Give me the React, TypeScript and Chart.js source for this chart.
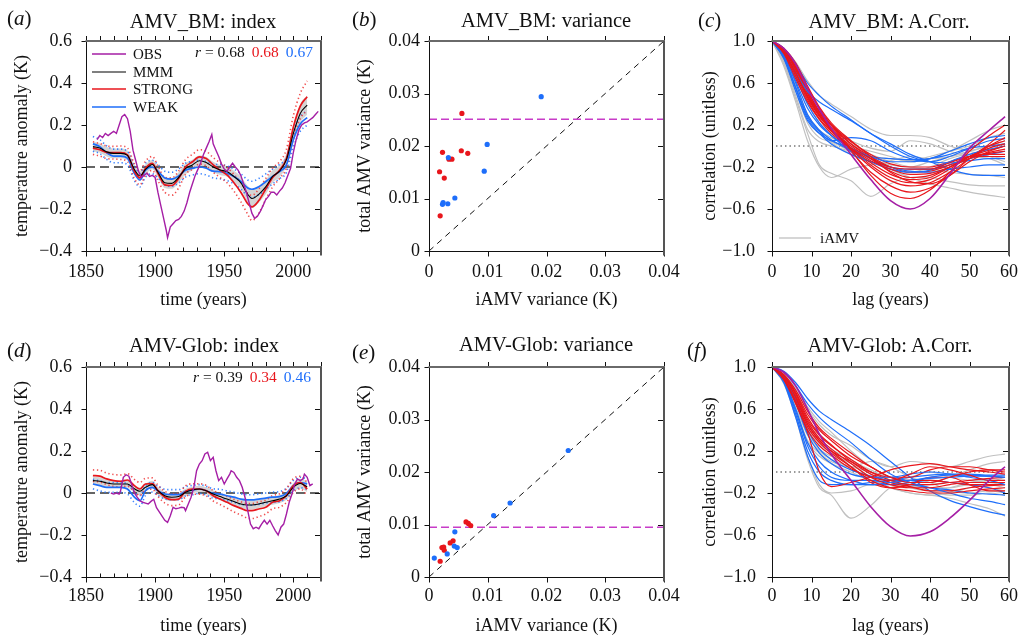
import React, { useEffect, useRef } from "react";
import { Chart, registerables } from "chart.js";

Chart.register(...registerables);

const SERIF = "'Liberation Serif', 'Times New Roman', Times, serif";
Chart.defaults.font.family = SERIF;
Chart.defaults.color = "#111";

const RED = "rgb(232,22,28)";
const BLUE = "rgb(30,110,250)";
const PURPLE = "rgb(165,30,165)";
const GREY = "rgb(192,192,192)";
const RED_DOT = "rgba(240,60,60,0.9)";
const BLUE_DOT = "rgba(40,120,255,0.9)";
const BAND = "rgba(205,205,205,0.85)";

// ---------------- DATA ----------------
// index panels (a), (d)
const modelYears = [1855, 1860, 1865, 1870, 1875, 1880, 1885, 1889, 1893, 1898, 1902, 1907, 1912, 1917, 1922, 1927, 1932, 1937, 1942, 1947, 1952, 1957, 1962, 1967, 1970, 1975, 1980, 1985, 1990, 1995, 2000, 2005, 2010];
const indexXMajorYears = [1850, 1900, 1950, 2000];
const indexXLabels = ["1850", "1900", "1950", "2000"];
const indexYLabels = ["\u22120.4", "\u22120.2", "0", "0.2", "0.4", "0.6"];

const bmObsYears = [1858, 1860, 1862, 1864, 1866, 1868, 1870, 1872, 1874, 1876, 1878, 1880, 1882, 1884, 1886, 1888, 1890, 1892, 1894, 1896, 1898, 1900, 1902, 1904, 1906, 1908, 1909, 1911, 1913, 1915, 1917, 1919, 1921, 1923, 1925, 1927, 1929, 1931, 1933, 1935, 1937, 1939, 1941, 1942, 1944, 1946, 1948, 1950, 1952, 1954, 1956, 1958, 1960, 1962, 1964, 1966, 1968, 1970, 1972, 1974, 1976, 1978, 1980, 1982, 1984, 1986, 1988, 1990, 1992, 1994, 1996, 1998, 2000, 2002, 2004, 2006, 2008, 2010, 2012, 2014, 2016, 2018];
const bmObs = [0.13, 0.15, 0.14, 0.16, 0.15, 0.16, 0.17, 0.16, 0.2, 0.24, 0.25, 0.23, 0.17, 0.08, 0.03, -0.02, -0.05, -0.04, -0.03, -0.045, -0.04, -0.05, -0.12, -0.18, -0.24, -0.3, -0.337, -0.285, -0.27, -0.255, -0.25, -0.235, -0.21, -0.17, -0.12, -0.08, -0.04, -0.01, 0.02, 0.06, 0.09, 0.12, 0.155, 0.11, 0.08, 0.05, 0.015, -0.01, -0.02, 0.0, 0.018, 0.0, -0.015, -0.04, -0.08, -0.12, -0.17, -0.22, -0.245, -0.235, -0.213, -0.185, -0.155, -0.14, -0.12, -0.12, -0.133, -0.115, -0.1, -0.075, -0.04, -0.006, 0.07, 0.13, 0.176, 0.2, 0.21, 0.215, 0.225, 0.235, 0.25, 0.265];
const bmMMM = [0.097, 0.09, 0.072, 0.065, 0.065, 0.055, -0.012, -0.042, -0.012, 0.012, -0.025, -0.075, -0.078, -0.05, -0.008, 0.01, 0.03, 0.022, 0.0, -0.014, -0.022, -0.045, -0.075, -0.13, -0.15, -0.13, -0.095, -0.045, -0.02, 0.035, 0.16, 0.255, 0.295];
const bmStrong = [0.09, 0.082, 0.07, 0.068, 0.068, 0.058, -0.02, -0.052, -0.006, 0.017, -0.03, -0.085, -0.088, -0.055, 0.0, 0.025, 0.048, 0.04, 0.01, -0.015, -0.038, -0.075, -0.12, -0.175, -0.19, -0.16, -0.105, -0.05, -0.015, 0.04, 0.19, 0.29, 0.335];
const bmWeak = [0.11, 0.097, 0.068, 0.052, 0.052, 0.042, -0.03, -0.062, -0.015, 0.0, -0.02, -0.052, -0.058, -0.043, -0.015, -0.006, 0.0, -0.006, -0.02, -0.022, -0.03, -0.045, -0.068, -0.1, -0.106, -0.094, -0.07, -0.045, -0.022, 0.01, 0.13, 0.205, 0.235];
const bmStrongHi = [0.12, 0.112, 0.1, 0.098, 0.1, 0.09, 0.015, -0.02, 0.028, 0.05, 0.005, -0.05, -0.052, -0.02, 0.035, 0.06, 0.082, 0.075, 0.045, 0.02, -0.002, -0.035, -0.075, -0.125, -0.135, -0.105, -0.055, -0.005, 0.025, 0.085, 0.245, 0.35, 0.41];
const bmStrongLo = [0.06, 0.052, 0.04, 0.038, 0.036, 0.026, -0.055, -0.085, -0.04, -0.016, -0.065, -0.12, -0.135, -0.1, -0.035, -0.01, 0.014, 0.005, -0.025, -0.05, -0.075, -0.115, -0.165, -0.225, -0.255, -0.22, -0.155, -0.095, -0.055, -0.005, 0.135, 0.23, 0.27];
const bmWeakHi = [0.145, 0.13, 0.1, 0.085, 0.085, 0.075, 0.005, -0.03, 0.018, 0.032, 0.012, -0.02, -0.025, -0.01, 0.018, 0.026, 0.032, 0.026, 0.012, 0.012, 0.005, -0.01, -0.032, -0.062, -0.068, -0.055, -0.033, -0.01, 0.012, 0.045, 0.165, 0.24, 0.27];
const bmWeakLo = [0.075, 0.064, 0.036, 0.02, 0.02, 0.01, -0.065, -0.095, -0.048, -0.032, -0.052, -0.085, -0.092, -0.077, -0.048, -0.038, -0.032, -0.038, -0.052, -0.056, -0.065, -0.08, -0.105, -0.138, -0.145, -0.132, -0.107, -0.08, -0.056, -0.025, 0.095, 0.17, 0.2];
const bmBandHi = [0.12, 0.112, 0.095, 0.088, 0.088, 0.078, 0.012, -0.018, 0.012, 0.035, 0.0, -0.05, -0.052, -0.025, 0.018, 0.035, 0.055, 0.048, 0.025, 0.01, 0.002, -0.018, -0.045, -0.09, -0.105, -0.09, -0.06, -0.015, 0.008, 0.065, 0.2, 0.3, 0.34];
const bmBandLo = [0.074, 0.068, 0.05, 0.042, 0.042, 0.032, -0.036, -0.066, -0.036, -0.011, -0.05, -0.1, -0.104, -0.075, -0.034, -0.015, 0.005, -0.004, -0.025, -0.038, -0.046, -0.072, -0.105, -0.17, -0.195, -0.17, -0.13, -0.075, -0.048, 0.005, 0.12, 0.21, 0.25];
const bmR = ["0.68", "0.68", "0.67"];

const globObsYears = [1868, 1870, 1872, 1874, 1875, 1877, 1879, 1881, 1883, 1885, 1887, 1889, 1891, 1893, 1895, 1897, 1899, 1901, 1903, 1905, 1907, 1909, 1911, 1913, 1915, 1917, 1919, 1921, 1922, 1924, 1926, 1928, 1930, 1932, 1934, 1936, 1938, 1940, 1942, 1944, 1946, 1948, 1950, 1952, 1954, 1955, 1957, 1959, 1961, 1963, 1965, 1967, 1969, 1971, 1973, 1975, 1977, 1979, 1981, 1983, 1985, 1987, 1989, 1991, 1993, 1995, 1997, 1999, 2001, 2003, 2005, 2007, 2008, 2010, 2012, 2014];
const globObs = [0.0, -0.005, 0.0, -0.005, 0.01, 0.075, 0.087, 0.08, 0.043, 0.0, -0.02, -0.037, -0.044, -0.048, -0.052, -0.04, -0.03, -0.07, -0.09, -0.11, -0.13, -0.14, -0.108, -0.068, -0.075, -0.072, -0.068, -0.07, -0.084, -0.052, -0.02, 0.027, 0.106, 0.138, 0.154, 0.186, 0.194, 0.154, 0.17, 0.106, 0.059, 0.075, 0.043, 0.067, 0.09, 0.106, 0.098, 0.075, 0.059, 0.027, -0.02, -0.084, -0.148, -0.17, -0.163, -0.17, -0.148, -0.13, -0.148, -0.13, -0.156, -0.18, -0.2, -0.163, -0.148, -0.1, -0.044, -0.005, 0.043, 0.067, 0.059, 0.067, 0.09, 0.075, 0.035, 0.043];
const globMMM = [0.059, 0.056, 0.048, 0.043, 0.043, 0.043, 0.02, 0.008, 0.027, 0.04, 0.011, -0.013, -0.02, -0.017, 0.003, 0.014, 0.019, 0.011, -0.005, -0.017, -0.029, -0.04, -0.052, -0.057, -0.057, -0.052, -0.044, -0.037, -0.029, -0.013, 0.027, 0.045, 0.03];
const globStrong = [0.083, 0.08, 0.067, 0.059, 0.056, 0.062, 0.035, 0.019, 0.043, 0.045, 0.011, -0.02, -0.032, -0.029, 0.008, 0.019, 0.019, 0.011, -0.013, -0.029, -0.044, -0.06, -0.073, -0.084, -0.084, -0.076, -0.068, -0.044, -0.037, -0.013, 0.035, 0.05, 0.019];
const globWeak = [0.043, 0.035, 0.027, 0.027, 0.027, 0.019, -0.02, -0.037, 0.011, 0.027, 0.011, -0.005, -0.008, -0.008, 0.008, 0.014, 0.019, 0.011, -0.002, -0.005, -0.013, -0.02, -0.029, -0.033, -0.033, -0.029, -0.024, -0.02, -0.017, -0.002, 0.035, 0.05, 0.043];
const globStrongHi = [0.11, 0.108, 0.095, 0.088, 0.086, 0.092, 0.065, 0.05, 0.07, 0.072, 0.038, 0.008, -0.004, -0.002, 0.034, 0.044, 0.044, 0.036, 0.012, -0.003, -0.016, -0.03, -0.042, -0.05, -0.05, -0.042, -0.034, -0.012, -0.004, 0.02, 0.068, 0.08, 0.05];
const globStrongLo = [0.055, 0.052, 0.04, 0.032, 0.028, 0.033, 0.006, -0.012, 0.016, 0.018, -0.016, -0.048, -0.06, -0.057, -0.018, -0.006, -0.006, -0.014, -0.038, -0.055, -0.072, -0.09, -0.105, -0.12, -0.122, -0.112, -0.1, -0.075, -0.068, -0.045, 0.002, 0.02, -0.012];
const globWeakHi = [0.065, 0.058, 0.05, 0.05, 0.05, 0.042, 0.005, -0.012, 0.034, 0.05, 0.034, 0.018, 0.016, 0.016, 0.03, 0.036, 0.04, 0.032, 0.02, 0.018, 0.01, 0.004, -0.004, -0.008, -0.008, -0.004, 0.0, 0.004, 0.007, 0.022, 0.06, 0.075, 0.068];
const globWeakLo = [0.02, 0.01, 0.003, 0.003, 0.003, -0.005, -0.045, -0.063, -0.012, 0.004, -0.012, -0.028, -0.032, -0.032, -0.014, -0.008, -0.002, -0.01, -0.025, -0.028, -0.036, -0.044, -0.054, -0.058, -0.058, -0.054, -0.048, -0.044, -0.041, -0.026, 0.01, 0.025, 0.018];
const globBandHi = [0.078, 0.075, 0.066, 0.06, 0.06, 0.06, 0.038, 0.026, 0.044, 0.058, 0.03, 0.005, -0.002, 0.0, 0.02, 0.03, 0.035, 0.028, 0.012, 0.0, -0.012, -0.022, -0.032, -0.036, -0.036, -0.032, -0.025, -0.018, -0.01, 0.006, 0.048, 0.068, 0.055];
const globBandLo = [0.04, 0.037, 0.03, 0.026, 0.026, 0.026, 0.002, -0.01, 0.01, 0.022, -0.008, -0.031, -0.038, -0.035, -0.014, -0.002, 0.003, -0.006, -0.022, -0.034, -0.046, -0.058, -0.072, -0.078, -0.078, -0.072, -0.063, -0.056, -0.048, -0.032, 0.006, 0.022, 0.005];
const globR = ["0.39", "0.34", "0.46"];

// variance panels (b), (e)
const varLabels = ["0", "0.01", "0.02", "0.03", "0.04"];
const bmVarStrongX = [0.0018, 0.0023, 0.0026, 0.0019, 0.0034, 0.0039, 0.0056, 0.0055, 0.0066];
const bmVarStrongY = [0.0151, 0.0188, 0.0139, 0.0067, 0.0175, 0.0175, 0.0262, 0.0191, 0.0186];
const bmVarWeakX = [0.0033, 0.0023, 0.0024, 0.0032, 0.0044, 0.0094, 0.0099, 0.0191];
const bmVarWeakY = [0.0178, 0.0089, 0.0092, 0.009, 0.0101, 0.0152, 0.0203, 0.0294];
const bmVarObs = 0.0251;
const globVarStrongX = [0.0019, 0.0022, 0.0025, 0.0026, 0.0036, 0.0041, 0.0063, 0.0067, 0.0071];
const globVarStrongY = [0.003, 0.0056, 0.0057, 0.0051, 0.0065, 0.0069, 0.0105, 0.0102, 0.0098];
const globVarWeakX = [0.0009, 0.0031, 0.0043, 0.0048, 0.0044, 0.011, 0.0138, 0.0237];
const globVarWeakY = [0.0036, 0.0044, 0.0059, 0.0056, 0.0086, 0.0117, 0.0141, 0.0241];
const globVarObs = 0.0095;

// autocorrelation panels (c), (f)
const lags = [0, 3, 6, 9, 12, 15, 20, 25, 30, 35, 40, 45, 50, 55, 59];
const acfXLabels = ["0", "10", "20", "30", "40", "50", "60"];
const acfYLabels = ["\u22121.0", "\u22120.6", "\u22120.2", "0.2", "0.6", "1.0"];
const acfZeroLags = [1, 59];

const bmAcfObs = [1, 0.93, 0.78, 0.55, 0.35, 0.17, -0.08, -0.32, -0.52, -0.6, -0.5, -0.27, -0.02, 0.15, 0.28];
const bmAcfGrey = [
  [1, 0.9, 0.68, 0.45, 0.3, 0.2, 0.05, -0.1, -0.22, -0.3, -0.36, -0.4, -0.44, -0.47, -0.49],
  [1, 0.78, 0.45, 0.12, -0.18, -0.26, -0.33, -0.48, -0.36, -0.3, -0.3, -0.34, -0.37, -0.38, -0.38],
  [1, 0.76, 0.42, 0.05, -0.2, -0.3, -0.22, -0.18, -0.14, -0.1, -0.12, -0.1, -0.05, 0.0, 0.05],
  [1, 0.93, 0.8, 0.62, 0.48, 0.4, 0.28, 0.16, 0.1, 0.1, 0.08, 0.0, -0.05, -0.1, -0.15],
  [1, 0.85, 0.58, 0.3, 0.15, 0.08, 0.0, -0.05, -0.1, -0.15, -0.12, -0.05, 0.05, 0.15, 0.2],
  [1, 0.82, 0.52, 0.22, 0.08, 0.04, -0.05, -0.12, -0.18, -0.2, -0.15, -0.1, -0.05, 0.0, 0.02],
  [1, 0.88, 0.66, 0.4, 0.22, 0.12, 0.02, -0.08, -0.15, -0.2, -0.22, -0.25, -0.27, -0.28, -0.3],
  [1, 0.8, 0.48, 0.16, 0.04, 0.0, -0.05, -0.1, -0.12, -0.14, -0.1, -0.05, 0.0, 0.08, 0.12],
  [1, 0.9, 0.7, 0.45, 0.25, 0.15, 0.05, -0.02, -0.05, 0.05, 0.02, -0.05, -0.1, -0.12, -0.18],
  [1, 0.84, 0.56, 0.28, 0.12, 0.03, -0.08, -0.15, -0.22, -0.25, -0.2, -0.12, -0.08, -0.1, -0.12],
];
const bmAcfBlue = [
  [1, 0.93, 0.78, 0.6, 0.48, 0.38, 0.25, 0.12, 0.02, -0.08, -0.15, -0.22, -0.27, -0.28, -0.28],
  [1, 0.9, 0.7, 0.52, 0.42, 0.35, 0.24, 0.12, 0.0, -0.1, -0.15, -0.16, -0.14, -0.12, -0.12],
  [1, 0.85, 0.56, 0.28, 0.14, 0.05, 0.08, 0.05, -0.05, -0.12, -0.15, -0.1, -0.02, 0.05, 0.07],
  [1, 0.83, 0.52, 0.24, 0.12, 0.05, -0.02, -0.1, -0.15, -0.15, -0.12, -0.05, 0.02, 0.08, 0.1],
  [1, 0.87, 0.62, 0.36, 0.2, 0.1, -0.02, -0.12, -0.2, -0.22, -0.22, -0.18, -0.12, -0.08, -0.05],
  [1, 0.84, 0.55, 0.26, 0.12, 0.02, -0.08, -0.15, -0.2, -0.24, -0.25, -0.22, -0.2, -0.18, -0.18],
  [1, 0.86, 0.6, 0.3, 0.15, 0.06, -0.04, -0.1, -0.12, -0.13, -0.12, -0.08, -0.02, 0.0, 0.02],
  [1, 0.89, 0.66, 0.4, 0.22, 0.1, -0.05, -0.15, -0.22, -0.25, -0.23, -0.15, -0.08, -0.03, 0.0],
];
const bmAcfRed = [
  [1, 0.93, 0.78, 0.56, 0.36, 0.2, -0.04, -0.28, -0.45, -0.5, -0.42, -0.25, -0.05, 0.1, 0.2],
  [1, 0.92, 0.74, 0.52, 0.32, 0.16, -0.05, -0.25, -0.38, -0.44, -0.4, -0.28, -0.12, 0.02, 0.15],
  [1, 0.9, 0.7, 0.47, 0.29, 0.15, -0.03, -0.2, -0.33, -0.38, -0.35, -0.25, -0.12, 0.0, 0.08],
  [1, 0.91, 0.73, 0.5, 0.3, 0.16, -0.02, -0.18, -0.3, -0.35, -0.32, -0.22, -0.1, 0.0, 0.05],
  [1, 0.89, 0.67, 0.44, 0.26, 0.14, -0.02, -0.16, -0.27, -0.32, -0.3, -0.2, -0.1, -0.02, 0.02],
  [1, 0.92, 0.76, 0.53, 0.33, 0.2, 0.02, -0.12, -0.24, -0.3, -0.28, -0.2, -0.1, -0.04, 0.0],
  [1, 0.88, 0.64, 0.42, 0.25, 0.12, -0.02, -0.14, -0.22, -0.27, -0.26, -0.2, -0.12, -0.06, -0.03],
  [1, 0.91, 0.72, 0.48, 0.3, 0.18, 0.02, -0.1, -0.2, -0.25, -0.24, -0.18, -0.1, -0.07, -0.05],
  [1, 0.9, 0.69, 0.46, 0.28, 0.16, 0.0, -0.12, -0.2, -0.22, -0.22, -0.16, -0.1, -0.08, -0.08],
  [1, 0.92, 0.75, 0.5, 0.32, 0.2, 0.04, -0.08, -0.17, -0.2, -0.2, -0.15, -0.1, -0.1, -0.1],
  [1, 0.93, 0.79, 0.57, 0.37, 0.22, 0.05, -0.1, -0.25, -0.34, -0.36, -0.28, -0.15, -0.05, 0.0],
];

const globAcfObs = [1, 0.95, 0.82, 0.6, 0.36, 0.17, -0.08, -0.33, -0.52, -0.61, -0.57, -0.44, -0.27, -0.08, 0.05];
const globAcfGrey = [
  [1, 0.84, 0.52, 0.12, -0.15, -0.22, -0.44, -0.32, -0.15, -0.12, -0.18, -0.22, -0.22, -0.2, -0.22],
  [1, 0.85, 0.55, 0.15, -0.12, -0.2, -0.18, -0.12, -0.15, -0.2, -0.22, -0.25, -0.3, -0.35, -0.42],
  [1, 0.92, 0.78, 0.6, 0.45, 0.35, 0.25, 0.12, 0.05, 0.1, 0.08, 0.05, 0.1, 0.15, 0.17],
  [1, 0.93, 0.8, 0.62, 0.48, 0.38, 0.2, 0.05, -0.05, -0.1, -0.1, -0.05, 0.02, 0.08, 0.1],
  [1, 0.88, 0.62, 0.35, 0.2, 0.12, 0.05, 0.0, -0.05, -0.1, -0.15, -0.15, -0.12, -0.12, -0.15],
  [1, 0.87, 0.6, 0.3, 0.18, 0.1, 0.05, 0.1, 0.05, -0.05, -0.1, -0.18, -0.2, -0.18, -0.2],
  [1, 0.9, 0.68, 0.42, 0.27, 0.18, 0.08, -0.05, -0.15, -0.2, -0.22, -0.2, -0.15, -0.1, -0.05],
  [1, 0.86, 0.58, 0.28, 0.15, 0.08, 0.0, -0.08, -0.1, -0.05, 0.0, -0.05, -0.08, -0.1, -0.12],
  [1, 0.89, 0.65, 0.38, 0.22, 0.15, 0.1, 0.02, -0.08, -0.15, -0.18, -0.15, -0.1, -0.08, -0.08],
  [1, 0.91, 0.72, 0.48, 0.32, 0.22, 0.12, 0.0, -0.1, -0.14, -0.12, -0.1, -0.12, -0.15, -0.18],
];
const globAcfBlue = [
  [1, 0.96, 0.85, 0.7, 0.58, 0.5, 0.38, 0.25, 0.1, -0.05, -0.18, -0.27, -0.33, -0.38, -0.41],
  [1, 0.95, 0.82, 0.65, 0.52, 0.42, 0.28, 0.12, -0.02, -0.1, -0.15, -0.2, -0.25, -0.28, -0.31],
  [1, 0.85, 0.52, 0.15, -0.08, -0.12, -0.12, -0.1, -0.08, -0.05, -0.03, -0.02, -0.02, -0.03, -0.03],
  [1, 0.86, 0.55, 0.2, 0.0, -0.08, -0.12, -0.12, -0.1, -0.08, -0.06, -0.05, -0.04, -0.04, -0.05],
  [1, 0.88, 0.6, 0.28, 0.1, 0.0, -0.08, -0.12, -0.12, -0.1, -0.08, -0.1, -0.12, -0.15, -0.2],
  [1, 0.9, 0.66, 0.36, 0.18, 0.08, -0.02, -0.05, -0.05, -0.02, 0.0, -0.02, -0.05, -0.08, -0.12],
  [1, 0.87, 0.58, 0.25, 0.05, -0.05, -0.08, -0.08, -0.1, -0.12, -0.15, -0.17, -0.2, -0.21, -0.22],
  [1, 0.9, 0.68, 0.4, 0.22, 0.12, 0.02, -0.04, -0.08, -0.08, -0.05, -0.03, -0.03, -0.04, -0.05],
];
const globAcfRed = [
  [1, 0.88, 0.65, 0.38, 0.0, -0.14, -0.1, -0.05, 0.02, 0.06, 0.08, 0.05, 0.02, 0.0, -0.02],
  [1, 0.9, 0.7, 0.45, 0.3, 0.2, 0.1, 0.0, -0.05, -0.05, 0.02, 0.05, 0.05, 0.02, 0.0],
  [1, 0.92, 0.76, 0.55, 0.4, 0.3, 0.15, 0.05, -0.05, -0.1, -0.1, -0.05, 0.0, 0.02, 0.02],
  [1, 0.91, 0.74, 0.5, 0.35, 0.25, 0.12, 0.0, -0.08, -0.12, -0.12, -0.1, -0.08, -0.06, -0.05],
  [1, 0.9, 0.72, 0.48, 0.32, 0.22, 0.08, -0.05, -0.12, -0.15, -0.15, -0.12, -0.1, -0.1, -0.1],
  [1, 0.92, 0.75, 0.52, 0.36, 0.26, 0.1, -0.02, -0.1, -0.14, -0.18, -0.18, -0.15, -0.13, -0.12],
  [1, 0.89, 0.68, 0.43, 0.28, 0.18, 0.05, -0.08, -0.15, -0.18, -0.2, -0.2, -0.18, -0.16, -0.15],
  [1, 0.9, 0.71, 0.46, 0.3, 0.2, 0.05, -0.1, -0.15, -0.12, -0.05, -0.05, -0.12, -0.18, -0.18],
  [1, 0.88, 0.66, 0.4, 0.25, 0.16, 0.03, -0.05, -0.08, -0.02, 0.05, 0.02, -0.03, -0.08, -0.08],
  [1, 0.93, 0.78, 0.58, 0.42, 0.32, 0.18, 0.05, -0.05, -0.08, -0.08, -0.1, -0.12, -0.12, -0.12],
];

// ---------------- HELPERS ----------------
type Pt = { x: number; y: number };
const pts = (xs: number[], ys: number[]): Pt[] => xs.map((x, i) => ({ x, y: ys[i] }));

const framePlugin = {
  id: "frame",
  afterDraw(chart: any, _args: any, opts: any) {
    const { ctx, chartArea: a } = chart;
    const xs = chart.scales.x;
    const ys = chart.scales.y;
    const seg = (x1: number, y1: number, x2: number, y2: number, color: string, w: number) => {
      ctx.beginPath();
      ctx.strokeStyle = color;
      ctx.lineWidth = w;
      ctx.moveTo(x1, y1);
      ctx.lineTo(x2, y2);
      ctx.stroke();
    };
    ctx.save();
    ctx.setLineDash([]);
    const L = Math.round(a.left) + 0.5;
    const B = Math.round(a.bottom) + 0.5;
    const T = Math.round(a.top);
    const R = Math.round(a.right);
    const major: number[] | undefined = opts.xMajor;
    for (const t of xs.ticks) {
      const px = Math.round(xs.getPixelForValue(t.value)) + 0.5;
      const isMajor = !major || major.some((m) => Math.abs(m - t.value) < 1e-6);
      if (isMajor) seg(px, B, px, B + 5, "#111", 1);
      else seg(px, B, px, B - 4, "#111", 1);
      seg(px, T, px, T - 5, "#111", 1);
    }
    for (const t of ys.ticks) {
      const py = Math.round(ys.getPixelForValue(t.value)) + 0.5;
      seg(L - 5, py, L, py, "#111", 1);
      seg(R, py, R - 6, py, "#111", 1);
    }
    seg(L, T, L, B + 4, "#111", 1);
    seg(L - 4, B, R + 1, B, "#111", 1);
    seg(L - 1, T, R + 1, T, "#6a6a6a", 2);
    seg(R, T, R, B + 4, "#555", 2);
    ctx.restore();
  },
};

const notesPlugin = {
  id: "notes",
  afterDraw(chart: any, _args: any, opts: any) {
    const { ctx, chartArea: a } = chart;
    ctx.save();
    ctx.setLineDash([]);
    ctx.textBaseline = "middle";
    ctx.textAlign = "left";
    for (const e of opts.legend || []) {
      ctx.strokeStyle = e.color;
      ctx.lineWidth = e.width;
      ctx.beginPath();
      ctx.moveTo(a.left + e.x1, a.top + e.dy);
      ctx.lineTo(a.left + e.x2, a.top + e.dy);
      ctx.stroke();
      ctx.fillStyle = "#111";
      ctx.font = `15px ${SERIF}`;
      ctx.fillText(e.label, a.left + e.tx, a.top + e.dy + 1);
    }
    if (opts.r) {
      let x = a.left + opts.r.dx;
      const y = a.top + opts.r.dy;
      ctx.fillStyle = "#111";
      ctx.font = `italic 15.5px ${SERIF}`;
      ctx.fillText("r", x, y);
      x += ctx.measureText("r").width;
      ctx.font = `15.5px ${SERIF}`;
      const s0 = " = " + opts.r.values[0];
      ctx.fillText(s0, x, y);
      x += ctx.measureText(s0).width + 7;
      ctx.fillStyle = RED;
      ctx.fillText(opts.r.values[1], x, y);
      x += ctx.measureText(opts.r.values[1]).width + 7;
      ctx.fillStyle = BLUE;
      ctx.fillText(opts.r.values[2], x, y);
    }
    ctx.restore();
  },
};

type Geom = { pt: number; pr: number; W: number; H: number; yTitlePad: number; xTitlePad: number; yTickPad: number; xTickPad: number };

function axes(g: Geom, x: any, y: any) {
  return {
    x: {
      type: "linear",
      min: x.min,
      max: x.max,
      afterFit: (s: any) => {
        s.height = g.H;
        s.paddingLeft = 0;
        s.paddingRight = 0;
      },
      grid: { display: false, drawTicks: false },
      border: { display: false },
      ticks: {
        stepSize: x.step,
        autoSkip: false,
        maxRotation: 0,
        minRotation: 0,
        padding: g.xTickPad,
        font: { size: 18 },
        color: "#111",
        callback: x.cb,
      },
      title: { display: true, text: x.title, font: { size: 18 }, color: "#111", padding: { top: 0, bottom: g.xTitlePad } },
    },
    y: {
      type: "linear",
      min: y.min,
      max: y.max,
      afterFit: (s: any) => {
        s.width = g.W;
        s.paddingTop = 0;
        s.paddingBottom = 0;
      },
      grid: { display: false, drawTicks: false },
      border: { display: false },
      ticks: {
        stepSize: y.step,
        autoSkip: false,
        padding: g.yTickPad,
        font: { size: 18 },
        color: "#111",
        callback: y.cb,
      },
      title: { display: true, text: y.title, font: { size: 18 }, color: "#111", padding: { top: g.yTitlePad, bottom: 0 } },
    },
  };
}

function baseOptions(g: Geom, scales: any, plugins: any) {
  return {
    responsive: false,
    animation: false,
    events: [],
    layout: { padding: { left: 0, top: g.pt, right: g.pr, bottom: 0 } },
    elements: { point: { radius: 0 } },
    plugins: { legend: { display: false }, tooltip: { enabled: false }, title: { display: false }, ...plugins },
    scales,
  };
}

function lineDs(data: Pt[], color: string, width: number, extra: any = {}) {
  return { type: "line", data, borderColor: color, backgroundColor: color, borderWidth: width, pointRadius: 0, tension: 0, fill: false, ...extra };
}

function indexConfig(d: any, g: Geom) {
  const smooth = { cubicInterpolationMode: "monotone" };
  const dot = { borderDash: [1.3, 2.7] };
  const datasets = [
    lineDs(pts(d.obsYears, d.obs), PURPLE, 1.4, { order: 1 }),
    lineDs(pts(modelYears, d.mmm), "#000", 1.1, { order: 2, ...smooth }),
    lineDs(pts(modelYears, d.strong), RED, 1.7, { order: 3, ...smooth }),
    lineDs(pts(modelYears, d.weak), BLUE, 1.7, { order: 4, ...smooth }),
    lineDs(pts(modelYears, d.sHi), RED_DOT, 1.6, { order: 20, ...smooth, ...dot }),
    lineDs(pts(modelYears, d.sLo), RED_DOT, 1.6, { order: 20, ...smooth, ...dot }),
    lineDs(pts(modelYears, d.wHi), BLUE_DOT, 1.6, { order: 21, ...smooth, ...dot }),
    lineDs(pts(modelYears, d.wLo), BLUE_DOT, 1.6, { order: 21, ...smooth, ...dot }),
    lineDs(pts([1850, 2020], [0, 0]), "#333", 1.5, { order: 30, borderDash: [9, 5] }),
    lineDs(pts(modelYears, d.bHi), BAND, 0, { order: 40, ...smooth }),
    lineDs(pts(modelYears, d.bLo), BAND, 0, { order: 40, ...smooth, fill: "-1", backgroundColor: BAND }),
  ];
  const xcb = (v: number) => {
    const i = indexXMajorYears.indexOf(Math.round(v));
    return i >= 0 ? indexXLabels[i] : "";
  };
  const ycb = (_v: number, i: number) => indexYLabels[i];
  return {
    type: "line",
    data: { datasets },
    options: baseOptions(
      g,
      axes(g, { min: 1850, max: 2020, step: 10, cb: xcb, title: "time (years)" }, { min: -0.4, max: 0.6, step: 0.2, cb: ycb, title: "temperature anomaly (K)" }),
      { frame: { xMajor: indexXMajorYears }, notes: { legend: d.legend, r: d.r } }
    ),
    plugins: [framePlugin, notesPlugin],
  };
}

function varConfig(d: any, g: Geom) {
  const datasets = [
    { type: "scatter", data: pts(d.sx, d.sy), backgroundColor: RED, borderColor: RED, pointRadius: 2.6, borderWidth: 0, showLine: false, order: 2 },
    { type: "scatter", data: pts(d.wx, d.wy), backgroundColor: BLUE, borderColor: BLUE, pointRadius: 2.6, borderWidth: 0, showLine: false, order: 1 },
    lineDs(pts([0, 0.04], [d.obs, d.obs]), "rgb(200,60,200)", 1.5, { order: 10, borderDash: [8, 4] }),
    lineDs(pts([0, 0.04], [0, 0.04]), "#111", 1, { order: 11, borderDash: [6, 5] }),
  ];
  const cb = (_v: number, i: number) => varLabels[i];
  return {
    type: "line",
    data: { datasets },
    options: baseOptions(
      g,
      axes(g, { min: 0, max: 0.04, step: 0.01, cb, title: "iAMV variance (K)" }, { min: 0, max: 0.04, step: 0.01, cb, title: "total AMV variance (K)" }),
      { frame: {}, notes: {} }
    ),
    plugins: [framePlugin, notesPlugin],
  };
}

function acfConfig(d: any, g: Geom) {
  const smooth = { cubicInterpolationMode: "monotone" };
  const datasets: any[] = [];
  datasets.push(lineDs(pts(lags, d.obs), PURPLE, 1.6, { order: 1, ...smooth }));
  d.red.forEach((r: number[], i: number) => datasets.push(lineDs(pts(lags, r), RED, 1.2, { order: 5 + (i % 2), ...smooth })));
  d.blue.forEach((b: number[], i: number) => datasets.push(lineDs(pts(lags, b), BLUE, 1.2, { order: 5 + ((i + 1) % 2), ...smooth })));
  d.grey.forEach((gr: number[]) => datasets.push(lineDs(pts(lags, gr), GREY, 1.2, { order: 20, ...smooth })));
  datasets.push(lineDs(pts(acfZeroLags, [0, 0]), "#333", 1.1, { order: 30, borderDash: [1.5, 3] }));
  const xcb = (_v: number, i: number) => acfXLabels[i];
  const ycb = (_v: number, i: number) => acfYLabels[i];
  return {
    type: "line",
    data: { datasets },
    options: baseOptions(
      g,
      axes(g, { min: 0, max: 60, step: 10, cb: xcb, title: "lag (years)" }, { min: -1, max: 1, step: 0.4, cb: ycb, title: "correlation (unitless)" }),
      { frame: {}, notes: { legend: d.legend } }
    ),
    plugins: [framePlugin, notesPlugin],
  };
}

// ---------------- COMPONENTS ----------------
function ChartBox({ left, top, width, height, make }: { left: number; top: number; width: number; height: number; make: () => any }) {
  const ref = useRef<HTMLCanvasElement | null>(null);
  useEffect(() => {
    if (!ref.current) return;
    const chart = new Chart(ref.current, make());
    return () => chart.destroy();
  }, []);
  return <canvas ref={ref} width={width} height={height} style={{ position: "absolute", left, top, width, height }} />;
}

function Label({ x, y, children, size, center }: { x: number; y: number; children: any; size: number; center?: boolean }) {
  return (
    <div
      style={{
        position: "absolute",
        left: x,
        top: y,
        transform: center ? "translate(-50%, -50%)" : "translate(0, -50%)",
        fontFamily: SERIF,
        fontSize: size,
        lineHeight: 1,
        whiteSpace: "nowrap",
        color: "#111",
      }}
    >
      {children}
    </div>
  );
}

const gTop = (W: number, pr: number, yTitlePad: number, yTickPad: number): Geom => ({ pt: 41, pr, W, H: 69, yTitlePad, xTitlePad: 9, yTickPad, xTickPad: 10 });
const gBot = (W: number, pr: number, yTitlePad: number, yTickPad: number): Geom => ({ pt: 47, pr, W, H: 61, yTitlePad, xTitlePad: 1, yTickPad, xTickPad: 8 });

const idxLegend = [
  { label: "OBS", color: PURPLE, width: 1.5, x1: 6, x2: 40, tx: 47, dy: 13 },
  { label: "MMM", color: "#000", width: 1.2, x1: 6, x2: 40, tx: 47, dy: 31 },
  { label: "STRONG", color: RED, width: 1.6, x1: 6, x2: 40, tx: 47, dy: 48 },
  { label: "WEAK", color: BLUE, width: 1.6, x1: 6, x2: 40, tx: 47, dy: 66 },
];
const acfLegend = [{ label: "iAMV", color: GREY, width: 1.3, x1: 7, x2: 39, tx: 48, dy: 197 }];

export default function App() {
  return (
    <div style={{ position: "fixed", left: 0, top: 0, width: 1023, height: 638, background: "#fff", overflow: "hidden" }}>
      <ChartBox
        left={0}
        top={0}
        width={340}
        height={320}
        make={() =>
          indexConfig(
            { obsYears: bmObsYears, obs: bmObs, mmm: bmMMM, strong: bmStrong, weak: bmWeak, sHi: bmStrongHi, sLo: bmStrongLo, wHi: bmWeakHi, wLo: bmWeakLo, bHi: bmBandHi, bLo: bmBandLo, legend: idxLegend, r: { dx: 109, dy: 12, values: bmR } },
            gTop(86, 19, 11, 14)
          )
        }
      />
      <ChartBox left={340} top={0} width={345} height={320} make={() => varConfig({ sx: bmVarStrongX, sy: bmVarStrongY, wx: bmVarWeakX, wy: bmVarWeakY, obs: bmVarObs }, gTop(89, 21, 14, 9))} />
      <ChartBox left={680} top={0} width={343} height={320} make={() => acfConfig({ obs: bmAcfObs, grey: bmAcfGrey, red: bmAcfRed, blue: bmAcfBlue, legend: acfLegend }, gTop(92, 14, 19, 17))} />
      <ChartBox
        left={0}
        top={320}
        width={340}
        height={318}
        make={() =>
          indexConfig(
            { obsYears: globObsYears, obs: globObs, mmm: globMMM, strong: globStrong, weak: globWeak, sHi: globStrongHi, sLo: globStrongLo, wHi: globWeakHi, wLo: globWeakLo, bHi: globBandHi, bLo: globBandLo, legend: [], r: { dx: 107, dy: 11, values: globR } },
            gBot(86, 19, 11, 14)
          )
        }
      />
      <ChartBox left={340} top={320} width={345} height={318} make={() => varConfig({ sx: globVarStrongX, sy: globVarStrongY, wx: globVarWeakX, wy: globVarWeakY, obs: globVarObs }, gBot(89, 21, 14, 9))} />
      <ChartBox left={680} top={320} width={343} height={318} make={() => acfConfig({ obs: globAcfObs, grey: globAcfGrey, red: globAcfRed, blue: globAcfBlue, legend: [] }, gBot(92, 14, 19, 16))} />

      <Label x={203} y={21} size={20.5} center>AMV_BM: index</Label>
      <Label x={546} y={20} size={20.5} center>AMV_BM: variance</Label>
      <Label x={889} y={21} size={20.5} center>AMV_BM: A.Corr.</Label>
      <Label x={204} y={345} size={20.5} center>AMV-Glob: index</Label>
      <Label x={546} y={344} size={20.5} center>AMV-Glob: variance</Label>
      <Label x={890} y={345} size={20.5} center>AMV-Glob: A.Corr.</Label>

      <Label x={7} y={18} size={21}>(<i>a</i>)</Label>
      <Label x={352} y={18.5} size={21}>(<i>b</i>)</Label>
      <Label x={698} y={19.5} size={21}>(<i>c</i>)</Label>
      <Label x={7} y={349.5} size={21}>(<i>d</i>)</Label>
      <Label x={352} y={352} size={21}>(<i>e</i>)</Label>
      <Label x={687} y={349.5} size={21}>(<i>f</i>)</Label>
    </div>
  );
}
